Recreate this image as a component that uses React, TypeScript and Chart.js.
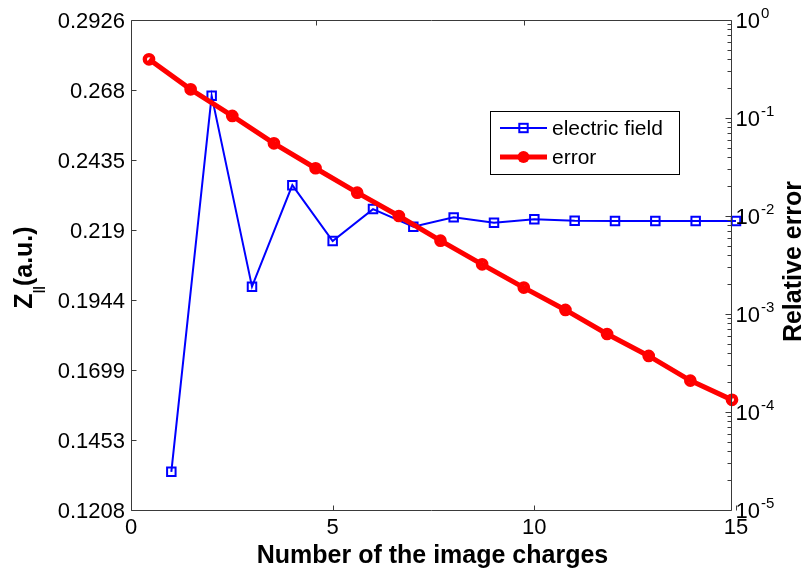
import React, { useEffect, useRef } from 'react';
import { Chart, registerables } from 'chart.js';

Chart.register(...registerables);

// ---------- data ----------
const N_CHARGES = [1, 2, 3, 4, 5, 6, 7, 8, 9, 10, 11, 12, 13, 14, 15];
const FIELD = [0.1342, 0.2660, 0.1991, 0.2347, 0.2151, 0.2263, 0.2201, 0.2234, 0.2215, 0.2227, 0.2222, 0.2221, 0.2221, 0.2221, 0.2221];
const REL_ERROR = [0.397, 0.196, 0.105, 0.0552, 0.0307, 0.0173, 0.0100, 0.0056, 0.00321, 0.00186, 0.0011, 0.000625, 0.000373, 0.000209, 0.000133];

const Y_TICKS = [0.1208, 0.1453, 0.1699, 0.1944, 0.219, 0.2435, 0.268, 0.2926];
const Y_TICK_LABELS = ['0.1208', '0.1453', '0.1699', '0.1944', '0.219', '0.2435', '0.268', '0.2926'];
const X_TICKS = [0, 5, 10, 15];
const X2_TICKS = [5, 10];
const R_DECADES = [0, -1, -2, -3, -4, -5];
const SERIES_NAMES = ['electric field', 'error'];
const TITLE_X = 'Number of the image charges';
const TITLE_YR = 'Relative error';

const FONT = "'Liberation Sans', Arial, Helvetica, sans-serif";
const BLUE = '#0000ff';
const RED = '#ff0000';
const AXIS = '#3a3a3a';

const decor = {
  id: 'decor',
  afterDraw(chart: any) {
    const ctx: CanvasRenderingContext2D = chart.ctx;
    const { left, top, bottom, right } = chart.chartArea;
    const sx = chart.scales.x, sx2 = chart.scales.x2, sy = chart.scales.y, syr = chart.scales.yR;
    const rx = Math.round(sx2.getPixelForValue(15)) - 0.5;
    const L = Math.round(left) + 0.5;
    const T = Math.round(top) + 0.5;
    const B = Math.round(bottom) + 0.5;
    ctx.save();
    ctx.strokeStyle = AXIS;
    ctx.lineWidth = 1;
    ctx.beginPath();
    // box
    ctx.moveTo(L, T); ctx.lineTo(rx, T);
    ctx.moveTo(L, T); ctx.lineTo(L, B);
    ctx.moveTo(L, B); ctx.lineTo(rx, B);
    ctx.moveTo(rx, T); ctx.lineTo(rx, B);
    // left ticks
    Y_TICKS.forEach(v => {
      const p = Math.round(sy.getPixelForValue(v)) + 0.5;
      ctx.moveTo(L, p); ctx.lineTo(L + 5, p);
    });
    // bottom ticks
    X_TICKS.forEach(v => {
      const p = Math.round(sx.getPixelForValue(v)) + 0.5;
      ctx.moveTo(p, B); ctx.lineTo(p, B - 5);
    });
    // top ticks (secondary axes)
    X2_TICKS.forEach(v => {
      const p = Math.round(sx2.getPixelForValue(v)) + 0.5;
      ctx.moveTo(p, T); ctx.lineTo(p, T + 5);
    });
    // right log ticks
    R_DECADES.forEach(d => {
      const p = Math.round(syr.getPixelForValue(Math.pow(10, d))) + 0.5;
      ctx.moveTo(rx, p); ctx.lineTo(rx - 6, p);
      if (d > -5) {
        for (let m = 2; m <= 9; m++) {
          const q = Math.round(syr.getPixelForValue(m * Math.pow(10, d - 1))) + 0.5;
          ctx.moveTo(rx, q); ctx.lineTo(rx - 4, q);
        }
      }
    });
    ctx.stroke();

    // right tick labels with superscript
    ctx.fillStyle = '#000';
    ctx.textAlign = 'left';
    ctx.textBaseline = 'middle';
    R_DECADES.forEach(d => {
      const p = syr.getPixelForValue(Math.pow(10, d));
      ctx.font = `22px ${FONT}`;
      const w = ctx.measureText('10').width;
      ctx.fillText('10', rx + 4, p + 2);
      ctx.font = `15px ${FONT}`;
      ctx.fillText(String(d), rx + 5 + w, p - 6.5);
    });

    // x title
    ctx.font = `bold 25px ${FONT}`;
    ctx.textAlign = 'center';
    ctx.textBaseline = 'alphabetic';
    ctx.fillText(TITLE_X, (left + right) / 2 - 1, 563);

    // left title: Z_||(a.u.)
    ctx.save();
    ctx.translate(32, (top + bottom) / 2 + 2.5);
    ctx.rotate(-Math.PI / 2);
    ctx.textAlign = 'left';
    const big = `bold 25px ${FONT}`;
    const small = `bold 13px ${FONT}`;
    ctx.font = big;
    const wZ = ctx.measureText('Z').width;
    const wP = ctx.measureText('(a.u.)').width;
    ctx.font = small;
    const wS = ctx.measureText('||').width;
    let tx = -(wZ + wS + wP) / 2;
    ctx.font = big; ctx.fillText('Z', tx, 0); tx += wZ;
    ctx.font = small; ctx.fillText('||', tx, 10); tx += wS;
    ctx.font = big; ctx.fillText('(a.u.)', tx, 0);
    ctx.restore();

    // right title
    ctx.save();
    ctx.translate(801, (top + bottom) / 2 - 3.5);
    ctx.rotate(-Math.PI / 2);
    ctx.textAlign = 'center';
    ctx.font = `bold 25px ${FONT}`;
    ctx.fillText(TITLE_YR, 0, 0);
    ctx.restore();

    // legend
    const bx = 490.5, by = 111.5, bw = 189, bh = 63;
    ctx.fillStyle = '#fff';
    ctx.fillRect(bx, by, bw, bh);
    ctx.strokeStyle = '#000';
    ctx.lineWidth = 1;
    ctx.strokeRect(bx, by, bw, bh);
    const ly1 = 128, ly2 = 157, lx0 = 500, lx1 = 547, lxm = (lx0 + lx1) / 2;
    // electric field
    ctx.strokeStyle = BLUE;
    ctx.lineWidth = 2;
    ctx.beginPath(); ctx.moveTo(lx0, ly1); ctx.lineTo(lx1, ly1); ctx.stroke();
    ctx.strokeRect(lxm - 4.2, ly1 - 4.2, 8.4, 8.4);
    // error
    ctx.fillStyle = RED;
    ctx.beginPath(); ctx.arc(lxm, ly2, 6, 0, Math.PI * 2); ctx.fill();
    ctx.strokeStyle = RED;
    ctx.lineWidth = 5;
    ctx.beginPath(); ctx.moveTo(lx0, ly2); ctx.lineTo(lx1, ly2); ctx.stroke();
    ctx.fillStyle = '#000';
    ctx.font = `21px ${FONT}`;
    ctx.textAlign = 'left';
    ctx.textBaseline = 'middle';
    ctx.fillText(SERIES_NAMES[0], 552, ly1 + 1);
    ctx.fillText(SERIES_NAMES[1], 552, ly2 + 1);
    ctx.restore();
  },
};

export default function App() {
  const ref = useRef<HTMLCanvasElement>(null);
  useEffect(() => {
    if (!ref.current) return;
    Chart.defaults.font.family = FONT;
    const fieldPts = N_CHARGES.map((n, i) => ({ x: n, y: FIELD[i] }));
    const errPts = N_CHARGES.map((n, i) => ({ x: n, y: REL_ERROR[i] }));
    const chart = new Chart(ref.current, {
      type: 'line',
      data: {
        datasets: [
          {
            label: SERIES_NAMES[0],
            data: fieldPts,
            xAxisID: 'x',
            yAxisID: 'y',
            borderColor: BLUE,
            borderWidth: 2,
            pointStyle: 'rect',
            pointRadius: 6,
            pointBorderWidth: 2,
            pointBorderColor: BLUE,
            pointBackgroundColor: 'rgba(0,0,0,0)',
            fill: false,
            tension: 0,
            order: 3,
            clip: false,
          } as any,
          {
            label: SERIES_NAMES[1] + ' markers',
            data: errPts,
            xAxisID: 'x2',
            yAxisID: 'yR',
            showLine: false,
            pointStyle: 'circle',
            pointRadius: 4.2,
            pointBorderWidth: 4.3,
            pointBorderColor: RED,
            pointBackgroundColor: '#ffffff',
            order: 2,
            clip: false,
          } as any,
          {
            label: SERIES_NAMES[1],
            data: errPts,
            xAxisID: 'x2',
            yAxisID: 'yR',
            borderColor: RED,
            borderWidth: 5,
            pointRadius: 0,
            fill: false,
            tension: 0,
            order: 1,
            clip: false,
          } as any,
        ],
      },
      options: {
        animation: false,
        responsive: false,
        events: [],
        layout: { padding: { top: 20, left: 0, right: 0, bottom: 0 } },
        plugins: { legend: { display: false }, tooltip: { enabled: false }, title: { display: false } },
        scales: {
          x: {
            type: 'linear',
            position: 'bottom',
            min: 0,
            max: 15,
            afterBuildTicks: (s: any) => { s.ticks = X_TICKS.map(v => ({ value: v })); },
            afterFit: (s: any) => { s.height = 63; },
            grid: { display: false, drawTicks: false },
            border: { display: false },
            ticks: { color: '#000', font: { size: 22 }, padding: 5, maxRotation: 0, autoSkip: false, callback: (v: any) => String(v) },
          },
          x2: {
            type: 'linear',
            display: false,
            min: 0.568,
            max: 15.096,
          },
          y: {
            type: 'linear',
            position: 'left',
            min: 0.1208,
            max: 0.2926,
            afterBuildTicks: (s: any) => { s.ticks = Y_TICKS.map(v => ({ value: v })); },
            afterFit: (s: any) => { s.width = 131; },
            grid: { display: false, drawTicks: false },
            border: { display: false },
            ticks: { color: '#000', font: { size: 22 }, padding: 6, labelOffset: 2, autoSkip: false, callback: (_v: any, i: number) => Y_TICK_LABELS[i] },
          },
          yR: {
            type: 'logarithmic',
            position: 'right',
            min: 1e-5,
            max: 1,
            afterBuildTicks: (s: any) => { s.ticks = R_DECADES.map(d => ({ value: Math.pow(10, d) })); },
            afterFit: (s: any) => { s.width = 68; },
            grid: { display: false, drawTicks: false },
            border: { display: false },
            ticks: { display: false },
          },
        },
      } as any,
      plugins: [decor],
    });
    return () => chart.destroy();
  }, []);
  return (
    <div style={{ position: 'absolute', left: 0, top: 0, width: 804, height: 573, background: '#fff' }}>
      <canvas ref={ref} width={804} height={573} style={{ display: 'block', width: 804, height: 573 }} />
    </div>
  );
}
